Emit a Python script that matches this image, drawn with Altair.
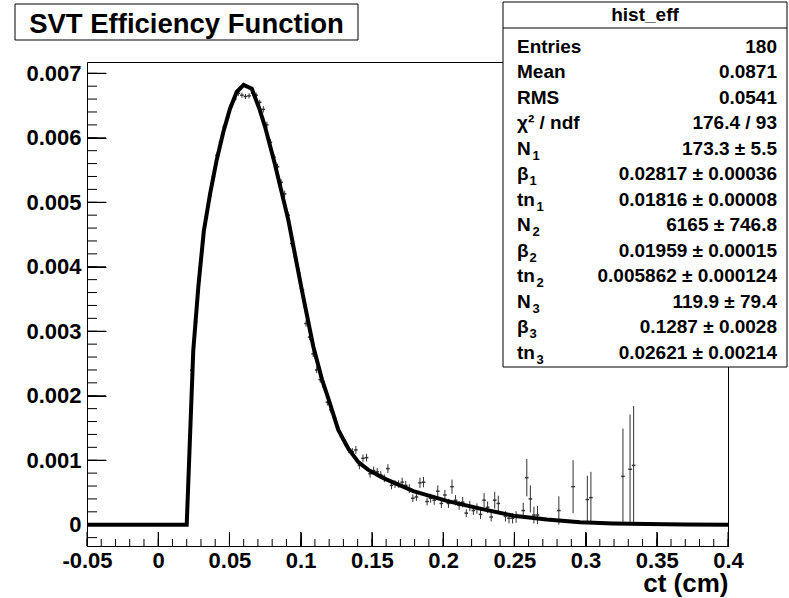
import altair as alt
import pandas as pd

# ---------------- data ----------------
# fitted efficiency function (polyline vertices)
curve_x = [-0.05, 0.0200, 0.0246, 0.0282, 0.0320, 0.0364, 0.0411, 0.0457, 0.0504, 0.0551,
           0.0600, 0.0657, 0.0710, 0.0750, 0.0818, 0.0914, 0.1008, 0.1089, 0.1150, 0.1194,
           0.1264, 0.1335, 0.1405, 0.1475, 0.1558, 0.1605, 0.1698, 0.1791, 0.2026, 0.2260,
           0.2494, 0.2728, 0.2962, 0.3196, 0.3431, 0.3700, 0.4000]
curve_y = [0.0, 0.0, 0.00270, 0.00370, 0.00455, 0.00513, 0.00566, 0.00609, 0.00645, 0.00671,
           0.00682, 0.00676, 0.00645, 0.00617, 0.00560, 0.00472, 0.00364, 0.00276, 0.00225, 0.00196,
           0.00147, 0.00118, 0.00097, 0.00085, 0.00075, 0.00070, 0.00061, 0.00052, 0.00037, 0.00025,
           0.00014, 0.00008, 0.00004, 0.00002, 0.00001, 0.000003, 0.0]

# histogram bins (centre, content, error)
bin_center = [0.02375, 0.02625, 0.02875, 0.03125, 0.03375, 0.03625, 0.03875, 0.04125, 0.04375, 0.04625,
              0.04875, 0.05125, 0.05375, 0.05625, 0.05875, 0.06125, 0.06375, 0.06625, 0.06875, 0.07125,
              0.07375, 0.07625, 0.07875, 0.08125, 0.08375, 0.08625, 0.08875, 0.09125, 0.09375, 0.09625,
              0.09875, 0.10125, 0.10375, 0.10625, 0.10875, 0.11125, 0.11375, 0.11625, 0.11875, 0.12125,
              0.12375, 0.12625, 0.12875, 0.13125, 0.13375, 0.13625, 0.13875, 0.14125, 0.14375, 0.14625,
              0.14875, 0.15125, 0.15375, 0.15625, 0.15875, 0.16125, 0.16375, 0.16625, 0.16875, 0.17125,
              0.17375, 0.17625, 0.17875, 0.18125, 0.18375, 0.18625, 0.18875, 0.19125, 0.19375, 0.19625,
              0.19875, 0.20125, 0.20375, 0.20625, 0.20875, 0.21125, 0.21375, 0.21625, 0.21875, 0.22125,
              0.22375, 0.22625, 0.22875, 0.23125, 0.23375, 0.23625, 0.23875, 0.24375, 0.24625, 0.24875,
              0.25125, 0.25625, 0.25875, 0.26125, 0.26375, 0.26625, 0.28125, 0.29125, 0.30125, 0.30375,
              0.32625, 0.33125, 0.33375]
bin_value = [0.00240, 0.00314, 0.00379, 0.00440, 0.00475, 0.00510, 0.00540, 0.00573, 0.00593, 0.00617,
             0.00632, 0.00650, 0.00660, 0.00669, 0.00666, 0.00664, 0.00665, 0.00669, 0.00666, 0.00655,
             0.00644, 0.00620, 0.00593, 0.00570, 0.00555, 0.00531, 0.00513, 0.00480, 0.00436, 0.00415,
             0.00390, 0.00364, 0.00312, 0.00291, 0.00265, 0.00240, 0.00225, 0.00214, 0.00190, 0.00178,
             0.00165, 0.00149, 0.00136, 0.00126, 0.00116, 0.00113, 0.00116, 0.00092, 0.00103, 0.00104,
             0.00079, 0.00084, 0.00082, 0.00077, 0.00072, 0.00087, 0.00061, 0.00063, 0.00063, 0.00066,
             0.00061, 0.00056, 0.00041, 0.00043, 0.00065, 0.00066, 0.00036, 0.00041, 0.00038, 0.00052,
             0.00033, 0.00046, 0.00033, 0.00059, 0.00038, 0.00030, 0.00035, 0.00018, 0.00029, 0.00022,
             0.00025, 0.00016, 0.00038, 0.00027, 0.00012, 0.00038, 0.00033, 0.00013, 0.00010, 0.00010,
             0.00012, 0.00022, 0.00073, 0.00040, 0.00015, 0.00015, 0.00022, 0.00059, 0.00039, 0.00042,
             0.00075, 0.00086, 0.00092]
bin_error = [0.00004, 0.00004, 0.00004, 0.00004, 0.00004, 0.00004, 0.00004, 0.00004, 0.00004, 0.00004,
             0.00004, 0.00004, 0.00004, 0.00004, 0.00004, 0.00004, 0.00004, 0.00004, 0.00004, 0.00004,
             0.00005, 0.00005, 0.00005, 0.00005, 0.00005, 0.00005, 0.00005, 0.00005, 0.00005, 0.00005,
             0.00005, 0.00005, 0.00005, 0.00005, 0.00005, 0.00005, 0.00005, 0.00005, 0.00005, 0.00005,
             0.00005, 0.00005, 0.00005, 0.00005, 0.00005, 0.00006, 0.00006, 0.00006, 0.00006, 0.00006,
             0.00006, 0.00006, 0.00006, 0.00006, 0.00006, 0.00007, 0.00006, 0.00006, 0.00006, 0.00007,
             0.00007, 0.00007, 0.00006, 0.00006, 0.00008, 0.00008, 0.00006, 0.00007, 0.00007, 0.00009,
             0.00007, 0.00008, 0.00007, 0.00011, 0.00008, 0.00007, 0.00008, 0.00006, 0.00008, 0.00007,
             0.00008, 0.00007, 0.00011, 0.00009, 0.00007, 0.00013, 0.00012, 0.00008, 0.00008, 0.00008,
             0.00009, 0.00012, 0.00029, 0.00021, 0.00013, 0.00014, 0.00022, 0.00041, 0.00037, 0.00040,
             0.00074, 0.00085, 0.00092]
bin_half_width = 0.00125

# axis ticks
x_major = [-0.05, 0, 0.05, 0.1, 0.15, 0.2, 0.25, 0.3, 0.35, 0.4]
x_minor = [round(-0.05 + 0.01 * i, 2) for i in range(46)]
y_major = [0, 0.001, 0.002, 0.003, 0.004, 0.005, 0.006, 0.007]
y_minor = [round(-0.0002 + 0.0002 * i, 4) for i in range(37)]

# texts
title_text = "SVT Efficiency Function"
x_title = "ct (cm)"
stats_header = "hist_eff"
stat_names = ["Entries", "Mean", "RMS", "χ² / ndf", "N", "β", "tn", "N", "β", "tn", "N", "β", "tn"]
stat_subs = ["", "", "", "", "1", "1", "1", "2", "2", "2", "3", "3", "3"]
stat_values = ["180", "0.0871", "0.0541", "176.4 / 93", "173.3 ± 5.5", "0.02817 ± 0.00036",
               "0.01816 ± 0.00008", "6165 ± 746.8", "0.01959 ± 0.00015", "0.005862 ± 0.000124",
               "119.9 ± 79.4", "0.1287 ± 0.0028", "0.02621 ± 0.00214"]

# ---------------- chart ----------------
FONT = "Liberation Sans"
W, H = 641, 484

curve_df = pd.DataFrame({"x": curve_x, "y": curve_y, "i": range(len(curve_x))})
pts_df = pd.DataFrame({"c": bin_center, "v": bin_value, "e": bin_error})
pts_df["lo"] = pts_df["v"] - pts_df["e"]
pts_df["hi"] = pts_df["v"] + pts_df["e"]
pts_df["l"] = pts_df["c"] - bin_half_width
pts_df["r"] = pts_df["c"] + bin_half_width

xs = alt.Scale(domain=[-0.05, 0.4], nice=False, zero=False)
ys = alt.Scale(domain=[-0.00033, 0.007175], nice=False, zero=False)

x_axis = alt.Axis(
    orient="bottom", values=x_major, tickSize=14, offset=-14, domain=False, grid=False,
    tickColor="black", tickWidth=1, labelFont=FONT, labelFontSize=22, labelFontWeight="bold",
    labelColor="black", labelPadding=4, labelFlush=False, labelOverlap=False,
    labelExpr="datum.value < 0 ? '-' + format(-datum.value, '~g') : format(datum.value, '~g')",
    title=x_title, titleFont=FONT, titleFontSize=26, titleFontWeight="bold", titleColor="black",
    titleX=W, titleY=59.5, titleAlign="right", titleBaseline="alphabetic", titleAngle=0,
)
y_axis = alt.Axis(
    orient="left", values=y_major, tickSize=19, offset=-19, domain=False, grid=False,
    tickColor="black", tickWidth=1, labelFont=FONT, labelFontSize=22, labelFontWeight="bold",
    labelColor="black", labelPadding=6, labelFlush=False, labelOverlap=False,
    labelExpr="format(datum.value, '~g')", title=None,
)

# tick marks drawn inside the frame (ROOT style)
xt_major = alt.Chart(pd.DataFrame({"t": x_major})).mark_rule(color="black", strokeWidth=1).encode(
    x=alt.X("t:Q", scale=xs, axis=x_axis), y=alt.value(H), y2=alt.value(H - 14)
)
xt_minor = alt.Chart(pd.DataFrame({"t": x_minor})).mark_rule(color="black", strokeWidth=1).encode(
    x=alt.X("t:Q", scale=xs, axis=x_axis), y=alt.value(H), y2=alt.value(H - 7)
)
yt_major = alt.Chart(pd.DataFrame({"t": y_major})).mark_rule(color="black", strokeWidth=1).encode(
    y=alt.Y("t:Q", scale=ys, axis=y_axis), x=alt.value(0), x2=alt.value(19)
)
yt_minor = alt.Chart(pd.DataFrame({"t": y_minor})).mark_rule(color="black", strokeWidth=1).encode(
    y=alt.Y("t:Q", scale=ys, axis=y_axis), x=alt.value(0), x2=alt.value(10)
)

vbars = alt.Chart(pts_df).mark_rule(color="#333333", strokeWidth=1).encode(
    x=alt.X("c:Q", scale=xs, axis=x_axis),
    y=alt.Y("lo:Q", scale=ys, axis=y_axis),
    y2="hi:Q",
)
hbars = alt.Chart(pts_df).mark_rule(color="#333333", strokeWidth=1.5).encode(
    x=alt.X("l:Q", scale=xs, axis=x_axis),
    x2="r:Q",
    y=alt.Y("v:Q", scale=ys, axis=y_axis),
)
curve = alt.Chart(curve_df).mark_line(color="black", strokeWidth=4, clip=True).encode(
    x=alt.X("x:Q", scale=xs, axis=x_axis),
    y=alt.Y("y:Q", scale=ys, axis=y_axis),
    order="i:Q",
)

one = pd.DataFrame({"a": [0]})

# title box
title_box = alt.Chart(one).mark_rect(fill="white", stroke="black", strokeWidth=1).encode(
    x=alt.value(-72), x2=alt.value(271), y=alt.value(-58), y2=alt.value(-22)
)
title_lbl = alt.Chart(one).mark_text(
    font=FONT, fontSize=27.5, fontWeight="bold", color="black", align="center", baseline="alphabetic"
).encode(x=alt.value(99.5), y=alt.value(-29), text=alt.value(title_text))

# stats box
stat_box = alt.Chart(one).mark_rect(fill="white", stroke="black", strokeWidth=1).encode(
    x=alt.value(416), x2=alt.value(700), y=alt.value(-60), y2=alt.value(305)
)
stat_sep = alt.Chart(one).mark_rule(color="black", strokeWidth=1).encode(
    x=alt.value(416), x2=alt.value(700), y=alt.value(-34)
)
stat_head = alt.Chart(one).mark_text(
    font=FONT, fontSize=19, fontWeight="bold", color="black", align="center", baseline="alphabetic"
).encode(x=alt.value(558), y=alt.value(-41.5), text=alt.value(stats_header))

LH = 25.5
first_base = -9.5
txt = dict(font=FONT, fontWeight="bold", color="black", baseline="alphabetic", lineHeight=LH)
names_col = alt.Chart(one).mark_text(fontSize=19, align="left", **txt).encode(
    x=alt.value(430), y=alt.value(first_base), text=alt.value(stat_names)
)
vals_col = alt.Chart(one).mark_text(fontSize=19, align="right", **txt).encode(
    x=alt.value(690), y=alt.value(first_base), text=alt.value(stat_values)
)
sub_x = {"N": 445.5, "β": 442.5, "tn": 449.5}
sub_layers = []
for i, (n, s) in enumerate(zip(stat_names, stat_subs)):
    if not s:
        continue
    sub_layers.append(
        alt.Chart(one).mark_text(fontSize=13, align="left", **txt).encode(
            x=alt.value(sub_x[n]), y=alt.value(first_base + i * LH + 5), text=alt.value(s)
        )
    )

chart = alt.layer(
    xt_major, xt_minor, yt_major, yt_minor, vbars, hbars, curve,
    title_box, title_lbl, stat_box, stat_sep, stat_head,
    names_col, vals_col, *sub_layers,
).properties(
    width=W, height=H,
    padding={"left": 87, "top": 62, "right": 61, "bottom": 52},
    autosize=alt.AutoSizeParams(type="none"),
    background="white",
).configure_view(stroke="black", strokeWidth=1)

chart.save("out.html", embed_options={"renderer": "svg", "actions": False})
